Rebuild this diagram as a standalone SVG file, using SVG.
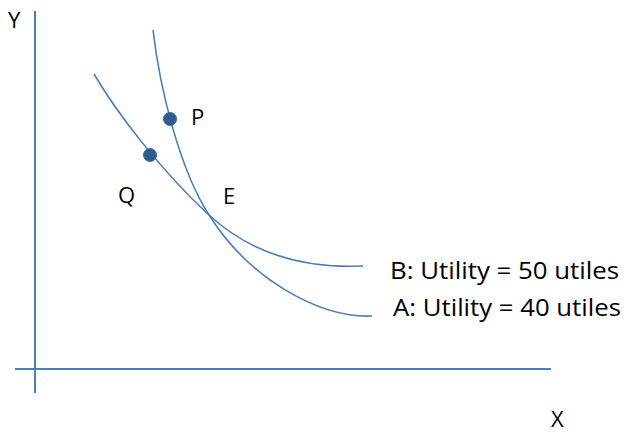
<svg xmlns="http://www.w3.org/2000/svg" width="631" height="433" viewBox="0 0 631 433">
<style>
.ax{stroke:#4a7ebb;stroke-width:2;fill:none}
.cv{stroke:#4a7ebb;stroke-width:1.6;fill:none}
.pt{fill:#2e5a8f;stroke:#3a6aa5;stroke-width:1}
.t{font-family:"Open Sans","Liberation Sans",sans-serif;font-size:22px;fill:#000}
.lb{font-family:"Open Sans","Liberation Sans",sans-serif;font-size:23px;fill:#000}
</style>
<rect width="631" height="433" fill="#fff"/>
<g id="axes">
<line class="ax" x1="35" y1="11" x2="35" y2="393"/>
<line class="ax" x1="15" y1="369" x2="551" y2="369"/>
<text class="t" x="8" y="28">Y</text>
<text class="t" x="551" y="427">X</text>
</g>
<g id="connectors">
<path id="curveA" class="cv" d="M153,30 C160,90 180,170 209,215 C250,280 320,318 372,316"/>
<path id="curveB" class="cv" d="M94,74 C115,110 160,170 209,215 C260,262 320,268 363,266"/>
</g>
<g id="nodeP"><circle class="pt" cx="170" cy="119" r="6.5"/><text class="t" x="191" y="125">P</text></g>
<g id="nodeQ"><circle class="pt" cx="150" cy="155" r="6.5"/><text class="t" x="118" y="203">Q</text></g>
<g id="nodeE"><text class="t" x="223" y="204">E</text></g>
<g id="labelB"><text class="lb" x="390" y="279" textLength="229" lengthAdjust="spacingAndGlyphs">B: Utility = 50 utiles</text></g>
<g id="labelA"><text class="lb" x="393" y="316" textLength="228" lengthAdjust="spacingAndGlyphs">A: Utility = 40 utiles</text></g>
</svg>
